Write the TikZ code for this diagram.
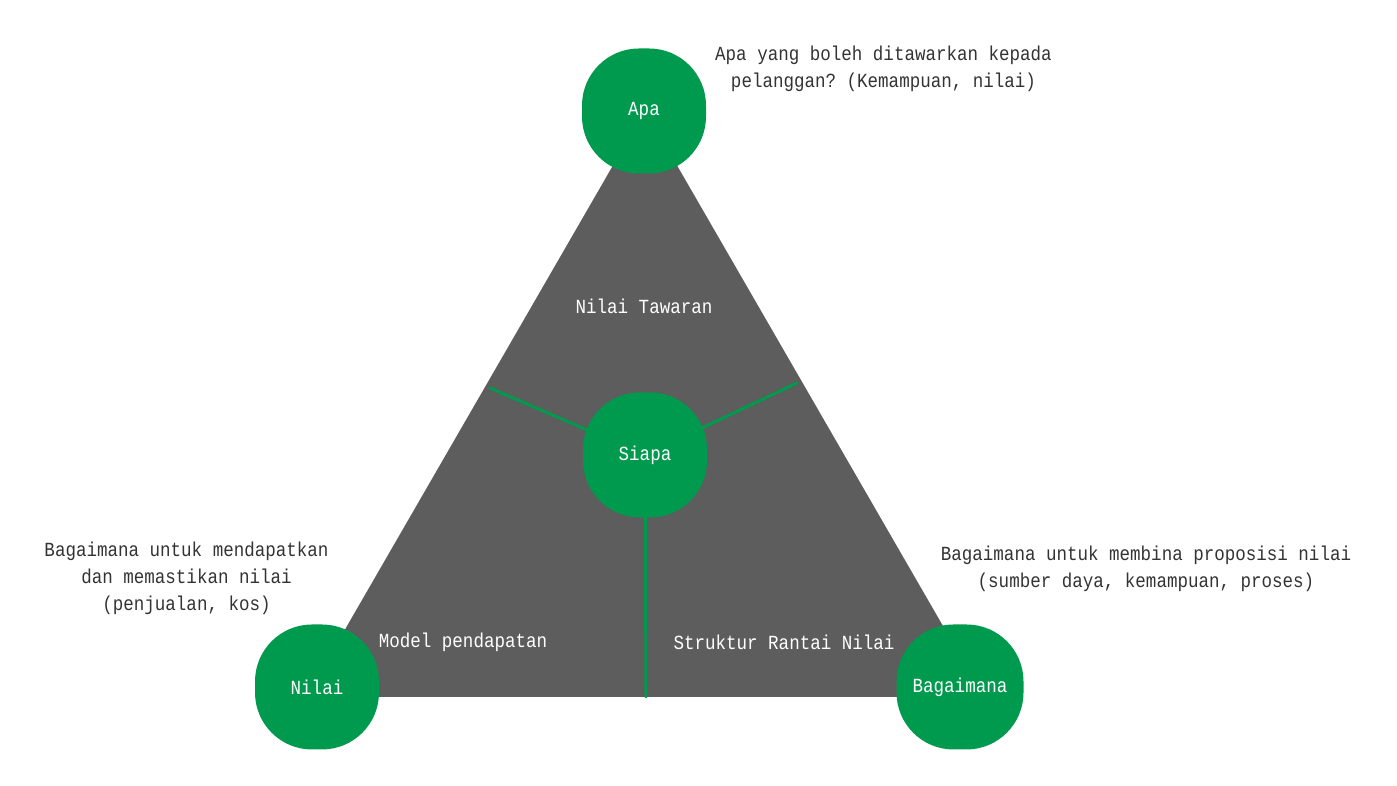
\documentclass[tikz,border=0pt]{standalone}
\usepackage{fontspec}
\setmonofont[FakeStretch=0.875]{Liberation Mono}
\usepackage{tkz-euclide}
\definecolor{TriClr}{HTML}{5D5D5D}
\definecolor{BlobClr}{HTML}{009A4E}
\definecolor{TextClr}{HTML}{333333}
\tikzset{
  blob/.style={fill=BlobClr,rounded corners=0.57cm,minimum width=1.24cm,
    minimum height=1.25cm,inner sep=0pt,text=white,font=\ttfamily\fontsize{5.7}{7.7}\selectfont},
  inlabel/.style={text=white,inner sep=0pt,font=\ttfamily\fontsize{5.7}{7.7}\selectfont},
  note/.style={text=TextClr,align=center,inner sep=0pt,font=\ttfamily\fontsize{5.7}{7.7}\selectfont}
}

\begin{document}
\begin{tikzpicture}
\useasboundingbox (0,0) rectangle (13.97,7.86);

\tkzDefPoints{6.45/6.76/T, 3.06/0.89/U, 9.84/0.89/V}
\tkzDefPoints{4.90/3.98/L, 7.97/4.03/R, 6.46/0.89/B, 6.45/3.31/S}

\tkzFillPolygon[fill=TriClr](T,U,V)

\tkzDrawSegments[line width=0.85pt,color=BlobClr](L,S R,S B,S)

\node[blob] (apa) at (6.44,6.75) {Apa};
\node[blob] (nilai) at (3.17,0.99) {Nilai};
\node[blob,minimum width=1.27cm] (bagaimana) at (9.60,0.99) {Bagaimana};
\node[blob] (siapa) at (S) {Siapa};

\node[inlabel] (tawaran) at (6.44,4.80) {Nilai Tawaran};
\node[inlabel] (model) at (4.63,1.44) {Model pendapatan};
\node[inlabel] (rantai) at (7.84,1.44) {Struktur Rantai Nilai};

\node[note] (apanote) at (8.835,7.17) {Apa yang boleh ditawarkan kepada\\pelanggan? (Kemampuan, nilai)};
\node[note] (nilainote) at (1.865,2.08) {Bagaimana untuk mendapatkan\\dan memastikan nilai\\(penjualan, kos)};
\node[note] (bagainote) at (11.46,2.17) {Bagaimana untuk membina proposisi nilai\\(sumber daya, kemampuan, proses)};

\end{tikzpicture}
\end{document}
